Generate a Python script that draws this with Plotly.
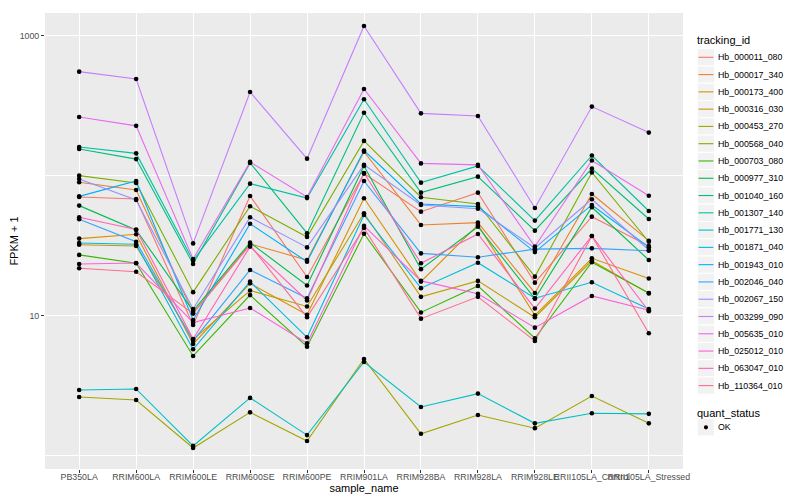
import plotly.graph_objects as go

# ---------------- data ----------------
samples = ["PB350LA", "RRIM600LA", "RRIM600LE", "RRIM600SE", "RRIM600PE",
           "RRIM901LA", "RRIM928BA", "RRIM928LA", "RRIM928LE",
           "RRII105LA_Control", "RRII105LA_Stressed"]

tracking_ids = ["Hb_000011_080", "Hb_000017_340", "Hb_000173_400", "Hb_000316_030",
                "Hb_000453_270", "Hb_000568_040", "Hb_000703_080", "Hb_000977_310",
                "Hb_001040_160", "Hb_001307_140", "Hb_001771_130", "Hb_001871_040",
                "Hb_001943_010", "Hb_002046_040", "Hb_002067_150", "Hb_003299_090",
                "Hb_005635_010", "Hb_025012_010", "Hb_063047_010", "Hb_110364_010"]

colors = ["#F8766D", "#EA8331", "#D89000", "#C09B00", "#A3A500", "#7CAE00", "#39B600",
          "#00BB4E", "#00BF7D", "#00C1A3", "#00BFC4", "#00BAE0", "#00B0F6", "#35A2FF",
          "#9590FF", "#C77CFF", "#E76BF3", "#FA62DB", "#FF62BC", "#FF6C91"]

# FPKM + 1, one value per sample (order of `samples`)
hb_000011_080 = [70.8, 68.5, 8.62, 72.0, 19.0, 104, 55.6, 76.0, 17.3, 51.2, 31.6]
hb_000017_340 = [90.2, 79.4, 10.5, 32.7, 25.1, 149, 44.7, 46.4, 14.6, 74.4, 34.5]
hb_000173_400 = [35.7, 38.3, 6.31, 17.1, 10.2, 69.3, 17.6, 44.7, 10.1, 25.8, 18.5]
hb_000316_030 = [32.3, 31.6, 6.8, 15.2, 11.7, 54.2, 13.7, 17.8, 9.8, 24.8, 14.5]
hb_000453_270 = [2.64, 2.51, 1.14, 2.05, 1.28, 4.93, 1.44, 1.96, 1.58, 2.68, 1.71]
hb_000568_040 = [100.5, 89.1, 14.8, 60.8, 36.7, 178, 70.5, 63.1, 19.1, 106, 33.9]
hb_000703_080 = [27.3, 23.8, 5.18, 14.1, 6.04, 38.7, 10.6, 16.4, 6.93, 24.2, 14.6]
hb_000977_310 = [61.4, 41.1, 10.9, 33.4, 16.5, 118, 21.6, 43.4, 13.3, 59.8, 25.1]
hb_001040_160 = [156, 132, 23.5, 124, 39.0, 283, 76.0, 98.9, 40.7, 113, 49.3]
hb_001307_140 = [161, 145, 24.8, 88.1, 69.5, 353, 89.6, 118, 48.0, 140, 56.2]
hb_001771_130 = [2.96, 3.01, 1.18, 2.60, 1.41, 4.69, 2.24, 2.79, 1.71, 2.02, 2.00]
hb_001871_040 = [33.2, 32.5, 5.78, 17.6, 7.04, 52.6, 15.8, 24.0, 13.4, 17.4, 11.2]
hb_001943_010 = [71.5, 92.1, 9.36, 45.6, 24.4, 152, 63.1, 60.4, 28.6, 62.1, 31.0]
hb_002046_040 = [49.1, 33.9, 6.63, 21.3, 13.4, 92.1, 28.0, 26.3, 30.0, 30.4, 29.2]
hb_002067_150 = [95.2, 67.4, 11.2, 50.7, 30.9, 120, 62.1, 58.4, 30.6, 68.2, 29.6]
hb_003299_090 = [556, 493, 33.0, 398, 133, 1178, 280, 268, 59.1, 313, 204]
hb_005635_010 = [264, 228, 25.5, 126, 70.8, 418, 123, 120, 31.3, 129, 72.3]
hb_025012_010 = [23.5, 23.9, 8.96, 11.4, 6.38, 44.0, 17.8, 14.4, 8.25, 13.9, 11.0]
hb_063047_010 = [50.7, 41.5, 6.85, 31.3, 12.9, 105, 23.8, 38.5, 11.3, 37.3, 10.8]
hb_110364_010 = [21.9, 20.7, 10.4, 32.1, 9.8, 42.5, 9.57, 13.7, 6.63, 37.3, 7.52]

series_values = [hb_000011_080, hb_000017_340, hb_000173_400, hb_000316_030,
                 hb_000453_270, hb_000568_040, hb_000703_080, hb_000977_310,
                 hb_001040_160, hb_001307_140, hb_001771_130, hb_001871_040,
                 hb_001943_010, hb_002046_040, hb_002067_150, hb_003299_090,
                 hb_005635_010, hb_025012_010, hb_063047_010, hb_110364_010]

y_tick_values = [10, 1000]
y_tick_labels = ["10", "1000"]
y_minor_values = [1, 100]
quant_levels = ["OK"]

# ---------------- figure ----------------
FONT = "Liberation Sans, Arial, Helvetica, sans-serif"
OFF = 8  # the page body margin shifts the figure by 8 px
W, H = 800 - OFF, 500 - OFF
PL, PR, PT, PB = 45 - OFF, 683 - OFF, 13 - OFF, 469 - OFF

fig = go.Figure()
for name, col, vals in zip(tracking_ids, colors, series_values):
    fig.add_trace(go.Scatter(x=samples, y=vals, mode="lines", name=name,
                             line=dict(color=col, width=1.1), showlegend=False,
                             hoverinfo="x+y+name"))

px_all, py_all = [], []
for vals in series_values:
    px_all += samples
    py_all += vals
fig.add_trace(go.Scatter(x=px_all, y=py_all, mode="markers", name=quant_levels[0],
                         marker=dict(color="black", size=4.6), showlegend=False))

fig.update_layout(
    width=W, height=H,
    margin=dict(l=PL, r=W - PR, t=PT, b=H - PB, autoexpand=False),
    paper_bgcolor="white", plot_bgcolor="#EBEBEB",
    font=dict(family=FONT, size=9, color="black"),
    showlegend=False,
)
fig.update_xaxes(
    type="category", categoryorder="array", categoryarray=samples,
    range=[-0.6, len(samples) - 0.4],
    tickmode="array", tickvals=samples, ticktext=samples, tickangle=0,
    showgrid=True, gridcolor="white", gridwidth=1.1, zeroline=False, showline=False,
    ticks="outside", ticklen=3, tickwidth=1, tickcolor="#333333",
    tickfont=dict(family=FONT, size=8.8, color="#4D4D4D"),
    ticklabelstandoff=-4,
    title=dict(text="sample_name", font=dict(family=FONT, size=11, color="black"), standoff=1),
    automargin=False,
)
fig.update_yaxes(
    type="log", range=[-0.093, 3.164],
    tickmode="array", tickvals=y_tick_values, ticktext=y_tick_labels,
    showgrid=True, gridcolor="white", gridwidth=1.1, zeroline=False, showline=False,
    ticks="outside", ticklen=3, tickwidth=1, tickcolor="#333333",
    tickfont=dict(family=FONT, size=8.8, color="#4D4D4D"),
    minor=dict(tickmode="array", tickvals=y_minor_values, showgrid=True,
               gridcolor="white", gridwidth=0.55, ticks=""),
    title=dict(text="FPKM + 1", font=dict(family=FONT, size=11, color="black"), standoff=3),
    automargin=False,
)

# ---------------- legend (ggplot-style, drawn in paper space) ----------------
def pxx(x):
    return (x - OFF - PL) / (PR - PL)

def pyy(y):
    return (PB - (y - OFF)) / (PB - PT)

shapes, annos = [], []
KEY_X0, KEY_X1 = 697.3, 714.6
KEY_H = 17.28
TEXT_X = 715.5
first_y = 57.3

annos.append(dict(x=pxx(695), y=pyy(40), xref="paper", yref="paper", text="tracking_id",
                  showarrow=False, xanchor="left", yanchor="middle",
                  font=dict(family=FONT, size=11, color="black")))
for i, (name, col) in enumerate(zip(tracking_ids, colors)):
    cy = first_y + i * KEY_H
    shapes.append(dict(type="rect", xref="paper", yref="paper",
                       x0=pxx(KEY_X0), x1=pxx(KEY_X1), y0=pyy(cy - KEY_H / 2), y1=pyy(cy + KEY_H / 2),
                       fillcolor="#F2F2F2", line=dict(color="white", width=1), layer="above"))
    shapes.append(dict(type="line", xref="paper", yref="paper",
                       x0=pxx(KEY_X0 + 1.2), x1=pxx(KEY_X1 - 1.2), y0=pyy(cy), y1=pyy(cy),
                       line=dict(color=col, width=1.1), layer="above"))
    annos.append(dict(x=pxx(TEXT_X), y=pyy(cy), xref="paper", yref="paper", text=name,
                      showarrow=False, xanchor="left", yanchor="middle",
                      font=dict(family=FONT, size=8.8, color="black")))

qy_title = 412.7
qy_key = 427.3
annos.append(dict(x=pxx(695), y=pyy(qy_title), xref="paper", yref="paper", text="quant_status",
                  showarrow=False, xanchor="left", yanchor="middle",
                  font=dict(family=FONT, size=11, color="black")))
shapes.append(dict(type="rect", xref="paper", yref="paper",
                   x0=pxx(KEY_X0), x1=pxx(KEY_X1), y0=pyy(qy_key - KEY_H / 2), y1=pyy(qy_key + KEY_H / 2),
                   fillcolor="#F2F2F2", line=dict(color="white", width=1), layer="above"))
cx = (KEY_X0 + KEY_X1) / 2
r = 2.1
shapes.append(dict(type="circle", xref="paper", yref="paper",
                   x0=pxx(cx - r), x1=pxx(cx + r), y0=pyy(qy_key - r), y1=pyy(qy_key + r),
                   fillcolor="black", line=dict(color="black", width=0), layer="above"))
annos.append(dict(x=pxx(TEXT_X), y=pyy(qy_key), xref="paper", yref="paper", text=quant_levels[0],
                  showarrow=False, xanchor="left", yanchor="middle",
                  font=dict(family=FONT, size=8.8, color="black")))

fig.update_layout(shapes=shapes, annotations=annos)
fig.write_html("out.html")
